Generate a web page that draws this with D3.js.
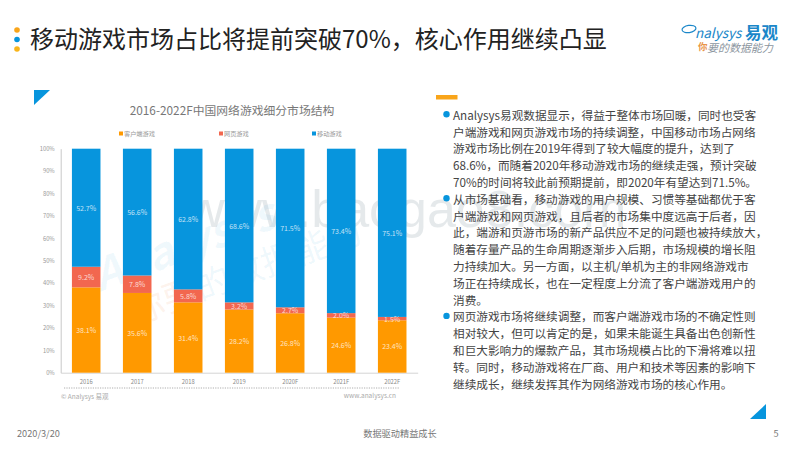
<!DOCTYPE html>
<html><head><meta charset="utf-8">
<script src="https://cdn.jsdelivr.net/npm/d3@7/dist/d3.min.js"></script>
<style>html,body{margin:0;padding:0;background:#fff}svg{display:block}text{font-family:"Noto Sans CJK SC","Noto Sans",sans-serif}</style>
</head><body><svg id="c" width="800" height="450"></svg>
<script>
const years=["2016","2017","2018","2019","2020F","2021F","2022F"];
const seriesNames=["客户端游戏","网页游戏","移动游戏"];
const clientValues=[38.1,35.6,31.4,28.2,26.8,24.6,23.4];
const webValues=[9.2,7.8,5.8,3.2,2.7,2.0,1.5];
const mobileValues=[52.7,56.6,62.8,68.6,71.5,73.4,75.1];
const colors=["#ff9900","#f2674f","#0795dd"];
const yTicks=[0,0.1,0.2,0.3,0.4,0.5,0.6,0.7,0.8,0.9,1];
const titleText="移动游戏市场占比将提前突破70%，核心作用继续凸显";
const chartTitle="2016-2022F中国网络游戏细分市场结构";
const paragraphs=[
["Analysys易观数据显示，得益于整体市场回暖，同时也受客","户端游戏和网页游戏市场的持续调整，中国移动市场占网络","游戏市场比例在2019年得到了较大幅度的提升，达到了","68.6%，而随着2020年移动游戏市场的继续走强，预计突破","70%的时间将较此前预期提前，即2020年有望达到71.5%。"],
["从市场基础看，移动游戏的用户规模、习惯等基础都优于客","户端游戏和网页游戏，且后者的市场集中度远高于后者，因","此，端游和页游市场的新产品供应不足的问题也被持续放大，","随着存量产品的生命周期逐渐步入后期，市场规模的增长阻","力持续加大。另一方面，以主机/单机为主的非网络游戏市","场正在持续成长，也在一定程度上分流了客户端游戏用户的","消费。"],
["网页游戏市场将继续调整，而客户端游戏市场的不确定性则","相对较大，但可以肯定的是，如果未能诞生具备出色创新性","和巨大影响力的爆款产品，其市场规模占比的下滑将难以扭","转。同时，移动游戏将在厂商、用户和技术等因素的影响下","继续成长，继续发挥其作为网络游戏市场的核心作用。"]
];
const svg=d3.select("#c");
const tri=(pts,fill)=>svg.append("polygon").attr("points",pts).attr("fill",fill);
const txt=(x,y,s,size,fill,anchor)=>svg.append("text").attr("x",x).attr("y",y).attr("font-size",size).attr("fill",fill).attr("text-anchor",anchor||"start").attr("dominant-baseline","central").text(s);

// watermark (beneath the marks)
svg.append("text").attr("x",187).attr("y",227).attr("font-size",52).style("font-family","'Liberation Sans'").attr("fill","#7f8f9a").attr("fill-opacity",0.2).text("www.baogao8.com");
svg.append("text").attr("transform","translate(100,292) rotate(-20)").attr("font-size",44).attr("font-style","italic").attr("fill","#0795dd").attr("fill-opacity",0.06).attr("font-weight",700).text("Analysys");
const wm=svg.append("text").attr("transform","translate(135,325) rotate(-20)").attr("font-size",35);
wm.append("tspan").attr("fill","#f2a06f").attr("fill-opacity",0.14).text("你要");
wm.append("tspan").attr("fill","#0795dd").attr("fill-opacity",0.07).text("的数据能力");

// header
[[30,"#f9a51a"],[39.5,"#0795dd"],[49,"#f9b51a"]].forEach(d=>svg.append("circle").attr("cx",17).attr("cy",d[0]).attr("r",2.8).attr("fill",d[1]));
txt(30,37.5,titleText,24,"#222");
svg.append("ellipse").attr("cx",689).attr("cy",29).attr("rx",7).attr("ry",3.6).attr("fill","none").attr("stroke","#1b87c9").attr("stroke-width",1.2).attr("transform","rotate(-8 689 29)");
txt(695,32,"nalysys",13.5,"#1b87c9").attr("font-style","italic");
txt(745,31.5,"易观",16.5,"#1b87c9").attr("font-weight",700);
txt(698,46,"你",9.5,"#e8954a").attr("font-weight",700);
txt(707,47,"要的数据能力",11,"#8c96a0").attr("font-style","italic");

tri("34,90 50,90 34,105","#0795dd");
tri("766,404 766,419 750,419","#0795dd");

// chart
const x=d3.scaleBand().domain(years).range([60.7,417.7]).paddingInner(0.44).paddingOuter(0.22);
const y=d3.scaleLinear().domain([0,1]).range([372.7,148.7]);
txt(232,109,chartTitle,11.8,"#777","middle");

const legendX=[119,219,312];
seriesNames.forEach((n,i)=>{
  svg.append("rect").attr("x",legendX[i]).attr("y",131.5).attr("width",4).attr("height",4).attr("fill",colors[i]);
  txt(legendX[i]+5,133,n,6.2,"#999");
});

const yAxis=svg.append("g").attr("transform","translate(60.7,0)").call(d3.axisLeft(y).tickValues(yTicks).tickFormat(d3.format(".0%")).tickSize(0).tickPadding(6));
yAxis.selectAll("text").attr("font-size",5.8).attr("fill","#999");
yAxis.select(".domain").attr("stroke","#c8c8c8").attr("stroke-width",1);
const xAxis=svg.append("g").attr("transform","translate(0,372.7)").call(d3.axisBottom(x).tickSize(0).tickPadding(7));
xAxis.selectAll("text").attr("font-size",5.8).attr("fill","#888");
xAxis.select(".domain").attr("stroke","#d4d4d4").attr("stroke-width",1);

const rows=years.map((yr,i)=>({year:yr,"0":clientValues[i],"1":webValues[i],"2":mobileValues[i]}));
const stack=d3.stack().keys(["0","1","2"]).offset(d3.stackOffsetExpand)(rows);
const groups=svg.append("g").selectAll("g").data(stack).join("g").attr("fill",(d,i)=>colors[i]);
groups.selectAll("rect").data(d=>d).join("rect")
  .attr("x",d=>x(d.data.year)).attr("width",x.bandwidth())
  .attr("y",d=>y(d[1])).attr("height",d=>y(d[0])-y(d[1]));
const labels=svg.append("g");
stack.forEach(s=>s.forEach(d=>{
  const mid=(d[0]+d[1])/2;
  labels.append("text").attr("x",x(d.data.year)+x.bandwidth()/2).attr("y",y(mid)).attr("text-anchor","middle")
    .attr("dominant-baseline","central").attr("font-size",7).attr("fill","#fff").attr("fill-opacity",0.75).text(d.data[s.key].toFixed(1)+"%");
}));

svg.append("line").attr("x1",64).attr("x2",400).attr("y1",388).attr("y2",388).attr("stroke","#999").attr("stroke-width",0.8).attr("stroke-dasharray","1.2 1.2");
txt(61,396,"© Analysys 易观",6.5,"#aaa");
txt(396,395,"www.analysys.cn",6.5,"#aaa","end");

// right text
svg.append("rect").attr("x",436).attr("y",95).attr("width",21.5).attr("height",4.5).attr("fill","#f9a51a");
let ly=114.3;
const lh=16.8;
paragraphs.forEach(p=>{
  svg.append("circle").attr("cx",446.5).attr("cy",ly).attr("r",3.2).attr("fill","#0795dd");
  p.forEach(line=>{ txt(453,ly,line,11.65,"#444"); ly+=lh; });
});

// footer
txt(17,433,"2020/3/20",9.2,"#777");
txt(400,433,"数据驱动精益成长",9.2,"#777","middle");
txt(776,433,"5",9.2,"#777","middle");
</script></body></html>
